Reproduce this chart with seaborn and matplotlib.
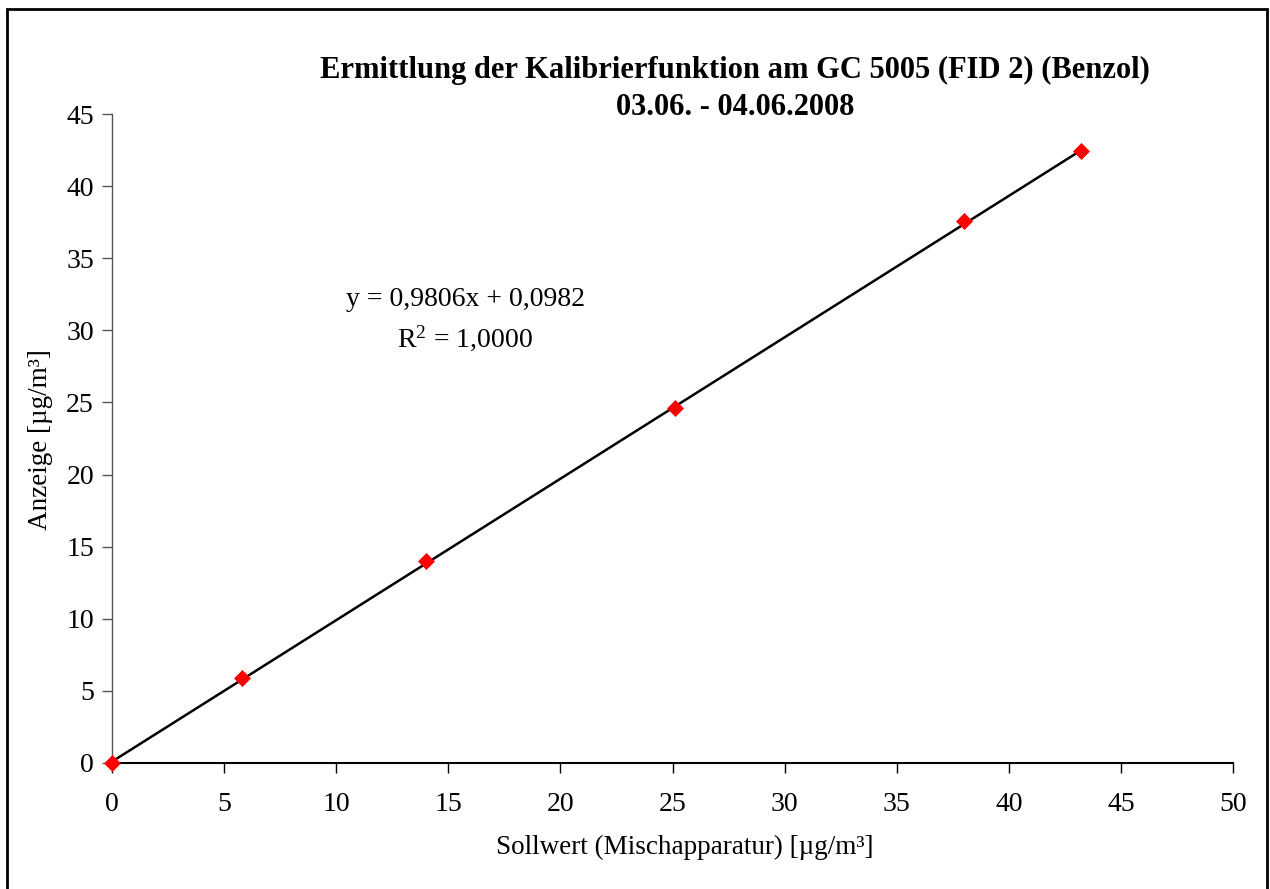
"""Kalibrierfunktion GC 5005 (FID 2), Benzol - scatter with linear trendline."""

import matplotlib
matplotlib.use("Agg")
import matplotlib.pyplot as plt
from matplotlib.patches import Rectangle
import numpy as np
import pandas as pd
import seaborn as sns

sollwert = [0.0, 5.8, 14.0, 25.1, 38.0, 43.2]
anzeige = [0.0, 5.9, 14.0, 24.6, 37.6, 42.4]

# trendline as printed in the chart
slope = 0.9806
intercept = 0.0982

x_ticks = [0, 5, 10, 15, 20, 25, 30, 35, 40, 45, 50]
y_ticks = [0, 5, 10, 15, 20, 25, 30, 35, 40, 45]

title = "Ermittlung der Kalibrierfunktion am GC 5005 (FID 2) (Benzol)\n03.06. - 04.06.2008"
x_label = "Sollwert (Mischapparatur) [µg/m³]"
y_label = "Anzeige [µg/m³]"


def main() -> None:
    sns.set_theme(style="white")
    plt.rcParams["font.family"] = ["Liberation Serif", "DejaVu Serif"]
    plt.rcParams["text.color"] = "black"
    plt.rcParams["axes.labelcolor"] = "black"
    plt.rcParams["mathtext.fontset"] = "custom"
    plt.rcParams["mathtext.rm"] = "Liberation Serif"
    plt.rcParams["mathtext.it"] = "Liberation Serif:italic"

    df = pd.DataFrame({"x": sollwert, "y": anzeige})

    fig = plt.figure(figsize=(12.7, 8.89), dpi=100)
    W, H = 1270, 889
    ax = fig.add_axes([112 / W, 1 - 763 / H, (1233 - 112) / W, (763 - 114) / H])

    # trendline over the measured range
    xs = np.array([min(sollwert), max(sollwert)])
    ax.plot(xs, slope * xs + intercept, color="black", lw=1.8, zorder=2)

    sns.scatterplot(data=df, x="x", y="y", ax=ax, marker="D", s=75,
                    color="red", edgecolor="red", linewidth=0, zorder=3,
                    clip_on=False)

    ax.set_xlim(0, 50)
    ax.set_ylim(0, 45)
    ax.set_xticks(x_ticks)
    ax.set_yticks(y_ticks)
    ax.tick_params(axis="both", direction="out", length=7, width=1,
                   labelsize=20, colors="black", bottom=True, left=True)
    ax.tick_params(axis="x", pad=14)
    ax.tick_params(axis="y", pad=6, color="#555555")

    for side in ("top", "right"):
        ax.spines[side].set_visible(False)
    ax.spines["bottom"].set_color("black")
    ax.spines["bottom"].set_linewidth(1.5)
    ax.spines["left"].set_color("#555555")
    ax.spines["left"].set_linewidth(1.0)

    ax.set_xlabel(x_label, fontsize=19.5)
    ax.set_ylabel(y_label, fontsize=19.5)
    aw, ah = 1233 - 112, 763 - 114
    ax.xaxis.set_label_coords((685 - 112) / aw, -(847 - 763) / ah)
    ax.yaxis.set_label_coords(-(112 - 41) / aw, (763 - 440) / ah)
    ax.xaxis.label.set_va("center")
    ax.yaxis.label.set_va("center")

    fig.text(735 / W, 1 - 89 / H, title, ha="center", va="center",
             fontsize=22, fontweight="bold", linespacing=1.35)

    fig.text(465 / W, 1 - 300 / H, "y = 0,9806x + 0,0982", ha="center",
             va="center", fontsize=20)
    fig.text(465 / W, 1 - 338 / H, r"R$^\mathrm{2}$ = 1,0000", ha="center",
             va="center", fontsize=20)

    # chart area border
    fig.patches.append(Rectangle((7 / W, -0.02), (1267 - 7) / W, 1 - 9 / H + 0.02,
                                 transform=fig.transFigure, fill=False,
                                 edgecolor="black", lw=2, clip_on=False))

    fig.savefig("out.png", dpi=100)
    plt.close(fig)


if __name__ == "__main__":
    main()
